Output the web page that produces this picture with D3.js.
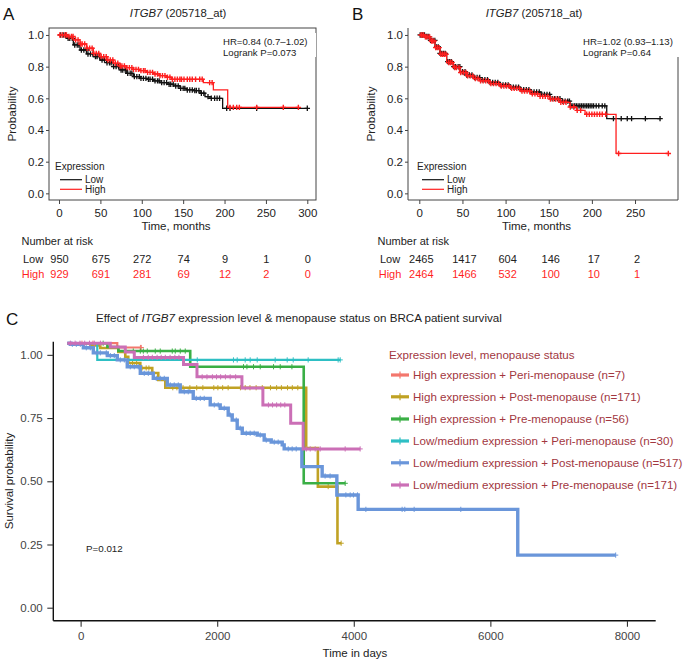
<!DOCTYPE html>
<html><head><meta charset="utf-8">
<script src="https://cdn.jsdelivr.net/npm/d3@7"></script>
<style>
body{margin:0;background:#fff}
svg{display:block}
text{font-family:"Liberation Sans",Arial,Helvetica,sans-serif}
</style>
</head><body>
<svg id="fig" width="688" height="662"></svg>
<script>
// ---------------- DATA ----------------
// Panel A (months)
const A_low_t=[0,9.3,17.3,25.4,33.4,41.5,49.5,57.6,65.6,73.7,81.8,89.8,97.9,105.9,114,122,130.1,138.1,146.2,154.2,162.3,170.4,176.4,182.4,197.7,300];
const A_low_s=[1,0.979,0.937,0.905,0.880,0.863,0.842,0.825,0.800,0.779,0.758,0.737,0.726,0.720,0.710,0.699,0.689,0.678,0.663,0.653,0.649,0.632,0.611,0.600,0.537,0.537];
const A_high_t=[0,9.3,17.3,25.4,33.4,41.5,49.5,57.6,65.6,73.7,81.8,89.8,97.9,105.9,114,122,130.1,136.1,174.4,186.5,203.8,289.2];
const A_high_s=[1,0.990,0.969,0.943,0.916,0.884,0.863,0.842,0.821,0.804,0.794,0.783,0.775,0.764,0.754,0.743,0.733,0.720,0.699,0.653,0.543,0.543];
const A_low_cens=[2,5,8,11,13,16,19,22,24,27,30,33,35,38,41,44,46,49,52,55,58,61,63,66,69,72,75,77,80,83,86,88,91,94,97,99,102,105,108,110,113,116,119,121,124,127,130,133,135,138,141,144,147,150,152,155,158,161,164,166,169,172,175,180,184,188,191,194,202.6,206.6,238.8,300];
const A_high_cens=[1,4,7,9,12,15,17,20,23,26,28,31,34,37,40,42,45,48,51,54,57,59,62,65,68,71,74,76,79,82,85,88,90,93,96,99,102,104,107,110,113,116,119,122,125,128,131,134,137,140,143,146,148,151,155,158,161,165,170,173,182,185,206.6,210.6,214.7,217.9,238.8,271,289.2];
const A_xticks=[0,50,100,150,200,250,300];
const A_risk_low=[950,675,272,74,9,1,0];
const A_risk_high=[929,691,281,69,12,2,0];

// Panel B (months)
const B_low_t=[0,6.6,12.4,18.2,24,31.7,39.4,47.1,54.9,62.6,70.3,81.9,93.5,105.1,116.7,128.3,139.9,151.5,163.1,174.7,217.2,279];
const B_low_s=[1,0.990,0.966,0.925,0.884,0.832,0.800,0.768,0.747,0.731,0.717,0.700,0.685,0.671,0.655,0.640,0.625,0.598,0.582,0.552,0.472,0.472];
const B_high_t=[0,6.6,12.4,18.2,24,31.7,39.4,47.1,54.9,62.6,70.3,81.9,93.5,105.1,116.7,128.3,139.9,151.5,163.1,174.7,182.4,192.1,228,288.6];
const B_high_s=[1,0.988,0.962,0.920,0.878,0.826,0.795,0.763,0.742,0.725,0.710,0.693,0.678,0.663,0.646,0.628,0.612,0.595,0.575,0.545,0.524,0.499,0.252,0.252];
const B_low_cens=[1,3,4,6,8,9,11,13,14,16,18,20,22,24,26,28,30,33,35,37,40,42,45,47,50,53,55,58,61,64,67,70,73,76,79,82,85,88,91,94,97,100,103,106,109,112,115,118,121,124,127,130,133,136,139,142,145,148,151,154,157,160,163,166,169,172,174,176,178,180,182,184,186,188,190,192,194,196,198,200,202,205,208,212,215,225,234,241,246,262,279];
const B_high_cens=[2,3,5,7,8,10,12,14,15,17,19,21,23,25,27,29,31,34,36,38,41,43,46,48,51,54,56,59,62,65,68,71,74,77,80,83,86,89,92,95,98,101,104,107,110,113,116,119,122,125,128,131,134,137,140,143,146,149,152,155,158,161,164,167,170,175,179,183,187,194,197,200,203,206,209,212,216,231,288.6];
const B_xticks=[0,50,100,150,200,250];
const B_risk_low=[2465,1417,604,146,17,2];
const B_risk_high=[2464,1466,532,100,10,1];
const prob_ticks=[0,0.2,0.4,0.6,0.8,1.0];

// Panel C (days)
const C_labels=["High expression + Peri-menopause (n=7)","High expression + Post-menopause (n=171)","High expression + Pre-menopause (n=56)","Low/medium expression + Peri-menopause (n=30)","Low/medium expression + Post-menopause (n=517)","Low/medium expression + Pre-menopause (n=171)"];
const C_colors=["#F3776D","#C0A224","#3AAF45","#2EBFC4","#6A96DA","#CB6FB6"];
const C_red_t=[-195,537,888];
const C_red_s=[1.046,1.029,1.029];
const C_red_cens=[20,180,876,888];
const C_olive_t=[-195,142,288,552,654,698,874,1049,1137,1240,3303,3474,3761,3815];
const C_olive_s=[1.046,1.037,1.027,1.011,0.992,0.968,0.948,0.928,0.901,0.870,0.631,0.479,0.255,0.255];
const C_olive_cens=[700,760,820,900,960,1000,1350,1410,1500,1600,1700,1790,1950,2010,2080,2160,2340,2410,2480,2570,2660,2780,2870,2940,3030,3100,3180,3625,3815];
const C_green_t=[-195,392,553,1605,3267,3874];
const C_green_s=[1.046,1.031,1.015,0.953,0.492,0.492];
const C_green_cens=[330,771,874,918,976,1093,1166,1342,1386,1459,1532,2385,2435,2532,2630,2825,2923,3094,3874];
const C_cyan_t=[-195,244,3801];
const C_cyan_s=[1.046,0.980,0.980];
const C_cyan_cens=[1708,2238,2293,2410,2483,2586,2849,3025,3113,3332,3771,3801];
const C_blue_t=[-195,-151,40,186,391,537,683,874,1064,1269,1459,1649,1898,2044,2161,2220,2293,2367,2586,2688,2791,2952,2981,3240,3537,3752,4064,6401,7835];
const C_blue_s=[1.046,1.042,1.028,1.008,0.997,0.980,0.953,0.927,0.907,0.881,0.854,0.828,0.802,0.789,0.762,0.742,0.710,0.690,0.683,0.663,0.655,0.644,0.628,0.558,0.521,0.446,0.389,0.208,0.208];
const C_blue_cens=[-121,-63,-4,83,142,230,288,376,435,493,581,640,727,786,844,932,991,1108,1166,1225,1313,1371,1430,1518,1576,1693,1752,1810,1957,2015,2103,2191,2279,2337,2425,2483,2542,2630,2718,2835,2893,3040,3098,3157,3580,3653,3884,3947,3995,4054,4177,4708,4747,4884,5567,7835];
const C_pink_t=[-195,435,654,786,1507,1704,2362,2669,3076,3259,4093];
const C_pink_s=[1.046,1.031,1.011,0.990,0.962,0.913,0.869,0.802,0.729,0.628,0.628];
const C_pink_cens=[-150,-80,-10,60,130,200,290,920,990,1050,1120,1180,1240,1310,1380,1440,1780,1850,1930,1990,2050,2120,2190,2270,2750,2810,2870,2930,2990,3304,3362,3435,3508,3874,4093];
const C_xticks=[0,2000,4000,6000,8000];
const C_yticks=[0,0.25,0.5,0.75,1];

// ---------------- HELPERS ----------------
const svg=d3.select("#fig");
function survAt(ts,ss,t){let v=ss[0];for(let i=0;i<ts.length;i++){if(ts[i]<=t)v=ss[i];}return v;}
function kmLine(g,x,y,ts,ss,color,w){
  const line=d3.line().x(i=>x(ts[i])).y(i=>y(ss[i])).curve(d3.curveStepAfter);
  g.append("path").attr("d",line(d3.range(ts.length))).attr("fill","none")
   .attr("stroke",color).attr("stroke-width",w);
}
function censMarks(g,x,y,ts,ss,cens,color,h,w){
  g.append("path").attr("d",cens.map(t=>{const cx=x(t),cy=y(survAt(ts,ss,t));
    return `M${cx-h},${cy}h${2*h}M${cx},${cy-h}v${2*h}`;}).join(""))
   .attr("fill","none").attr("stroke",color).attr("stroke-width",w);
}
const RED="#ff1f1f", BLK="#111";

// ---------------- PANELS A / B ----------------
function kmPanel(o){
  const g=svg.append("g");
  const x=d3.scaleLinear().domain(o.xdom).range([o.left,o.right]);
  const y=d3.scaleLinear().domain([-0.042,1.044]).range([200,28]);
  if(o.fullBox){
    g.append("rect").attr("x",o.left).attr("y",28).attr("width",o.right-o.left).attr("height",172)
     .attr("fill","none").attr("stroke","#444").attr("stroke-width",1);
  } else {
    g.append("path").attr("d",`M${o.left},28V200H${o.right}V57`).attr("fill","none").attr("stroke","#444").attr("stroke-width",1);
  }
  const ya=g.append("g").attr("transform",`translate(${o.left},0)`)
    .call(d3.axisLeft(y).tickValues(prob_ticks).tickFormat(d3.format(".1f")).tickSize(3).tickPadding(2));
  const xa=g.append("g").attr("transform",`translate(0,200)`)
    .call(d3.axisBottom(x).tickValues(o.xticks).tickFormat(d3.format("d")).tickSize(4).tickPadding(5));
  [ya,xa].forEach(a=>{a.select(".domain").remove();a.selectAll("line").attr("stroke","#444");
    a.selectAll("text").attr("fill","#222").style("font-size","11.5px").style("font-family",'"Liberation Sans",Arial,sans-serif');});
  kmLine(g,x,y,o.low_t,o.low_s,BLK,1.3);
  censMarks(g,x,y,o.low_t,o.low_s,o.low_c,BLK,2.7,1.3);
  kmLine(g,x,y,o.high_t,o.high_s,RED,1.3);
  censMarks(g,x,y,o.high_t,o.high_s,o.high_c,RED,2.7,1.4);
  g.append("text").attr("x",o.letterX).attr("y",20).text(o.letter).style("font-size","17px").attr("fill","#111");
  const tt=g.append("text").attr("x",o.titleX).attr("y",17).attr("text-anchor","middle").style("font-size","11.3px").attr("fill","#222");
  tt.append("tspan").style("font-style","italic").text("ITGB7");
  tt.append("tspan").text(" (205718_at)");
  g.append("rect").attr("x",o.hrX-2).attr("y",33).attr("width",o.right-o.hrX+2).attr("height",24).attr("fill","#fff");
  g.append("text").attr("x",o.hrX).attr("y",44.5).text(o.hr).style("font-size","9.6px").attr("fill","#222");
  g.append("text").attr("x",o.hrX).attr("y",55.5).text(o.lr).style("font-size","9.6px").attr("fill","#222");
  g.append("text").attr("transform",`translate(${o.ylabX},114) rotate(-90)`).attr("text-anchor","middle")
    .text("Probability").style("font-size","11.8px").attr("fill","#222");
  g.append("text").attr("x",o.legX).attr("y",170.3).text("Expression").style("font-size","10px").attr("fill","#222");
  [["Low",BLK,179.7],["High",RED,189.3]].forEach(([t,c,yy])=>{
    g.append("line").attr("x1",o.legX+5).attr("x2",o.legX+27).attr("y1",yy).attr("y2",yy).attr("stroke",c).attr("stroke-width",1.2);
    g.append("text").attr("x",o.legX+30).attr("y",yy+3.6).text(t).style("font-size","10px").attr("fill","#222");
  });
  g.append("text").attr("x",o.timeX).attr("y",230).attr("text-anchor","middle").text("Time, months").style("font-size","11.5px").attr("fill","#222");
  g.append("text").attr("x",o.nrX).attr("y",245).text("Number at risk").style("font-size","11px").attr("fill","#222");
  g.append("text").attr("x",o.rowLabX).attr("y",263.3).attr("text-anchor","middle").text("Low").style("font-size","11px").attr("fill","#222");
  g.append("text").attr("x",o.rowLabX).attr("y",278.3).attr("text-anchor","middle").text("High").style("font-size","11px").attr("fill",RED);
  o.xticks.forEach((t,i)=>{
    g.append("text").attr("x",x(t)+o.riskDx).attr("y",263.3).attr("text-anchor","middle").text(o.risk_low[i]).style("font-size","11px").attr("fill","#222");
    g.append("text").attr("x",x(t)+o.riskDx).attr("y",278.3).attr("text-anchor","middle").text(o.risk_high[i]).style("font-size","11px").attr("fill",RED);
  });
}
kmPanel({left:49,right:316,xdom:[-12.1,310.5],fullBox:true,xticks:A_xticks,
  low_t:A_low_t,low_s:A_low_s,low_c:A_low_cens,high_t:A_high_t,high_s:A_high_s,high_c:A_high_cens,
  letter:"A",letterX:3,titleX:178,hrX:223,hr:"HR=0.84 (0.7–1.02)",lr:"Logrank P=0.073",ylabX:15.5,legX:55,
  timeX:176,nrX:21.5,rowLabX:33,risk_low:A_risk_low,risk_high:A_risk_high,riskDx:0.5});
kmPanel({left:408,right:678,xdom:[-13.1,299.8],fullBox:false,xticks:B_xticks,
  low_t:B_low_t,low_s:B_low_s,low_c:B_low_cens,high_t:B_high_t,high_s:B_high_s,high_c:B_high_cens,
  letter:"B",letterX:352,titleX:534,hrX:583,hr:"HR=1.02 (0.93–1.13)",lr:"Logrank P=0.64",ylabX:375,legX:417,
  timeX:536.5,nrX:377.5,rowLabX:390,risk_low:B_risk_low,risk_high:B_risk_high,riskDx:2});

// ---------------- PANEL C ----------------
(function(){
  const g=svg.append("g");
  const x=d3.scaleLinear().domain([-400,8421]).range([53.3,655.7]);
  const y=d3.scaleLinear().domain([-0.0514,1.052]).range([620.7,341.7]);
  g.append("text").attr("x",6).attr("y",325).text("C").style("font-size","17px").attr("fill","#111");
  const tt=g.append("text").attr("x",96).attr("y",321.5).style("font-size","11.6px").attr("fill","#222");
  tt.append("tspan").text("Effect of ");
  tt.append("tspan").style("font-style","italic").text("ITGB7");
  tt.append("tspan").text(" expression level & menopause status on BRCA patient survival");
  const series=[[C_red_t,C_red_s,C_red_cens,2.2],[C_olive_t,C_olive_s,C_olive_cens,2.6],[C_green_t,C_green_s,C_green_cens,2.6],
                [C_cyan_t,C_cyan_s,C_cyan_cens,2.2],[C_blue_t,C_blue_s,C_blue_cens,3.4],[C_pink_t,C_pink_s,C_pink_cens,3.0]];
  series.forEach(([ts,ss,cs,w],i)=>{
    kmLine(g,x,y,ts,ss,C_colors[i],w);
    censMarks(g,x,y,ts,ss,cs,C_colors[i],2.6,1);
  });
  const ya=g.append("g").attr("transform","translate(53.3,0)")
    .call(d3.axisLeft(y).tickValues(C_yticks).tickFormat(d3.format(".2f")).tickSize(6).tickPadding(4.6));
  const xa=g.append("g").attr("transform","translate(0,620.7)")
    .call(d3.axisBottom(x).tickValues(C_xticks).tickFormat(d3.format("d")).tickSize(6).tickPadding(5.5));
  [ya,xa].forEach(a=>{a.select(".domain").attr("stroke","#111").attr("stroke-width",1.4);
    a.selectAll("line").attr("stroke","#333").attr("stroke-width",1.1);
    a.selectAll("text").attr("fill","#444").style("font-size","11.5px").style("font-family",'"Liberation Sans",Arial,sans-serif');});
  ya.select(".domain").attr("d","M0,341.7V620.7");
  xa.select(".domain").attr("d","M53.3,0H655.7");
  g.append("text").attr("x",355).attr("y",657).attr("text-anchor","middle").text("Time in days").style("font-size","11.5px").attr("fill","#222");
  g.append("text").attr("transform","translate(12.5,481) rotate(-90)").attr("text-anchor","middle")
    .text("Survival probability").style("font-size","11.5px").attr("fill","#222");
  g.append("text").attr("x",86).attr("y",552).text("P=0.012").style("font-size","9.8px").attr("fill","#222");
  const LC="#a2373f";
  g.append("text").attr("x",389).attr("y",359.2).text("Expression level, menopause status").style("font-size","11.6px").attr("fill",LC);
  const rowY=[375,396.8,419,441,462.8,485];
  C_labels.forEach((lab,i)=>{
    const yy=rowY[i];
    g.append("line").attr("x1",391).attr("x2",409).attr("y1",yy).attr("y2",yy).attr("stroke",C_colors[i]).attr("stroke-width",3.2);
    g.append("line").attr("x1",400).attr("x2",400).attr("y1",yy-3.5).attr("y2",yy+3.5).attr("stroke",C_colors[i]).attr("stroke-width",1.2);
    g.append("text").attr("x",413).attr("y",yy+4.2).text(lab).style("font-size","11.6px").attr("fill",LC);
  });
})();
</script>
</body></html>
